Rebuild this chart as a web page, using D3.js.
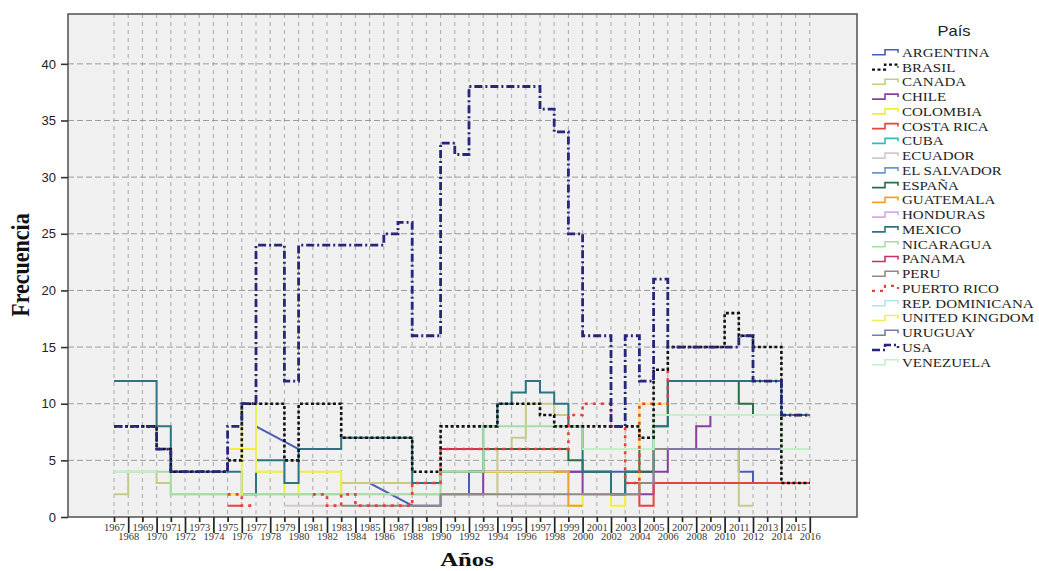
<!DOCTYPE html>
<html><head><meta charset="utf-8">
<script src="https://cdn.jsdelivr.net/npm/d3@7"></script>
<style>body{margin:0;background:#fff}</style>
</head><body><svg id="c" width="1039" height="571"></svg>
<script>
const N = null;
const years = d3.range(1967, 2017);
const yTickValues = [0, 5, 10, 15, 20, 25, 30, 35, 40];
const countries = ["ARGENTINA","BRASIL","CANADA","CHILE","COLOMBIA","COSTA RICA","CUBA","ECUADOR","EL SALVADOR","ESPAÑA","GUATEMALA","HONDURAS","MEXICO","NICARAGUA","PANAMA","PERU","PUERTO RICO","REP. DOMINICANA","UNITED KINGDOM","URUGUAY","USA","VENEZUELA"];

// values per year 1967..2016 (rows of ten years)
const argentina = [N,N,N,N,N,N,N,N,N,N, 8,N,N,6,6,6,N,N,3,N, N,1,1,2,2,4,4,4,4,4, 4,4,4,4,4,4,4,4,6,6, 6,6,6,6,4,3,3,3,3,3];
const argentinaLinks = [[1977, 1980], [1985, 1988]];
const brasil = [8,8,8,6,4,4,4,4,5,10, 10,10,5,10,10,10,7,7,7,7, 7,4,4,8,8,8,8,10,10,10, 9,8,8,8,8,8,8,7,13,15, 15,15,15,18,16,15,15,3,3,3];
const canada = [2,4,4,3,2,2,2,2,2,2, 2,2,2,2,2,2,3,3,3,3, 3,2,2,2,2,2,2,6,7,10, 10,9,8,6,6,6,6,6,6,6, 6,6,6,6,1,1,N,N,N,N];
const chile = [N,N,N,N,N,N,N,N,N,N, N,N,N,N,N,N,N,N,N,N, N,N,N,N,N,2,4,4,4,4, 4,4,4,2,2,2,2,2,4,6, 6,8,9,9,9,9,9,9,9,9];
const colombia = [N,N,N,N,N,N,N,N,6,6, 4,4,2,4,4,4,2,2,2,2, 2,2,2,4,4,4,4,4,4,4, 4,4,1,2,2,1,2,10,10,9, 9,9,9,9,9,9,9,9,N,N];
const costaRica = [N,N,N,N,N,N,N,N,1,1, N,N,N,N,N,N,N,N,N,N, N,N,N,N,N,N,N,N,N,N, N,N,N,N,N,N,3,1,3,3, 3,3,3,3,3,3,3,3,3,3];
const cuba = [N,N,N,N,N,N,N,N,N,N, N,N,N,N,N,N,N,N,N,N, N,N,N,N,N,N,N,N,N,N, N,N,N,N,N,N,N,N,N,N, N,N,N,N,N,N,N,N,N,N];
const ecuador = [N,N,N,N,N,N,N,N,N,N, N,N,1,1,1,1,1,N,N,N, N,N,N,N,N,N,N,1,1,1, 1,1,1,N,N,N,N,N,N,N, N,N,N,N,N,N,N,N,N,N];
const elSalvador = [N,N,N,N,N,N,N,N,N,N, N,N,N,N,N,N,N,N,N,N, N,N,N,N,N,N,N,N,N,N, N,N,N,N,N,N,N,N,N,N, N,N,N,N,N,N,N,N,N,N];
const espana = [N,N,N,N,N,N,N,N,N,N, N,N,N,N,N,N,N,N,N,N, N,N,N,N,N,4,6,6,6,6, 6,6,5,4,4,2,4,4,8,12, 12,12,12,12,10,9,9,9,9,9];
const guatemala = [N,N,N,N,N,N,N,N,N,N, N,N,N,N,N,N,N,N,N,N, N,N,N,N,N,N,N,N,N,N, N,4,1,1,N,N,N,N,N,N, N,N,N,N,N,N,N,N,N,N];
const honduras = [N,N,N,N,N,N,N,N,N,N, N,N,N,N,N,N,N,N,N,N, N,N,N,N,N,N,N,N,N,N, N,N,N,N,N,N,N,N,N,N, N,N,N,N,N,N,N,N,N,N];
const mexico = [12,12,12,8,4,4,4,4,4,2, 5,5,3,6,6,6,7,7,7,7, 7,3,3,4,4,4,8,10,11,12, 11,10,8,4,4,2,4,6,8,12, 12,12,12,12,12,12,12,9,9,9];
const nicaragua = [4,4,4,4,2,2,2,2,2,2, 2,2,2,2,2,2,2,2,2,2, 2,2,2,4,4,4,8,8,8,8, 8,8,8,6,6,6,6,6,9,9, 9,9,9,9,9,9,9,6,6,6];
const panama = [N,N,N,N,N,N,N,N,N,N, N,N,N,N,N,N,N,N,N,N, N,N,N,6,6,6,6,N,N,N, N,N,N,N,N,N,N,N,N,N, N,N,N,N,N,N,N,N,N,N];
const peru = [N,N,N,N,N,N,N,N,N,N, N,N,N,N,N,N,1,1,1,1, 1,1,1,2,2,2,2,2,2,2, 2,2,2,2,2,2,2,3,6,6, 6,6,6,6,6,6,6,6,6,6];
const puertoRico = [N,N,N,N,N,N,N,N,2,1, 1,N,N,N,2,1,2,1,1,1, 1,3,3,6,6,6,6,6,6,6, 6,6,9,10,10,8,3,10,10,13, N,N,N,N,N,N,N,9,9,9];
const repDominicana = [N,N,N,N,N,N,N,N,N,N, N,N,N,N,N,N,N,N,N,N, N,N,N,N,N,N,N,N,N,N, N,N,N,N,N,N,N,N,N,N, N,N,N,N,N,N,N,N,N,N];
const unitedKingdom = [N,N,N,N,N,N,N,N,2,10, 4,4,N,N,N,N,N,N,N,N, N,N,N,N,N,N,N,N,N,N, N,N,N,N,N,N,N,N,N,N, N,N,N,N,N,N,N,N,N,N];
const uruguay = [N,N,N,N,N,N,N,N,N,N, N,N,N,N,N,N,N,N,N,N, N,N,N,N,N,N,N,N,N,N, N,N,N,N,N,N,N,N,N,6, 6,6,6,6,6,6,6,6,6,6];
const usa = [8,8,8,6,4,4,4,4,8,10, 24,24,12,24,24,24,24,24,24,25, 26,16,16,33,32,38,38,38,38,38, 36,34,25,16,16,8,16,12,21,15, 15,15,15,15,16,12,12,9,9,9];
const venezuela = [4,4,4,4,N,N,N,N,N,N, N,N,N,N,N,N,N,N,N,N, N,N,N,N,N,N,N,N,N,N, N,N,N,6,6,6,6,6,9,9, 9,9,9,9,9,9,9,6,6,6];

const seriesValues = [argentina,brasil,canada,chile,colombia,costaRica,cuba,ecuador,elSalvador,espana,guatemala,honduras,mexico,nicaragua,panama,peru,puertoRico,repDominicana,unitedKingdom,uruguay,usa,venezuela];

// styles
const colors = ["#4a5cb8","#111111","#c9c98a","#8a3ea2","#f2ee3a","#e8423f","#38b8c0","#d4c8c8","#6a98cc","#2a6e48","#f0a030","#d8a8e8","#2c7482","#a6dca6","#cc3060","#8e8a84","#e8403a","#b4e4ee","#eeee58","#7a78ac","#26267a","#c6eec8"];
const dashes = {1:"3,2.5", 16:"3,5", 20:"8,3,2,3"};
const widths = {1:2.6, 16:2.6, 20:2.8};

const svg = d3.select("#c");
const plotL = 68, plotR = 857, plotT = 14, plotB = 517;
const x = d3.scalePoint().domain(years).range([114, 809.8]);
const y = d3.scaleLinear().domain([0, 44.4]).range([plotB, plotT]);

const serif = "'Liberation Serif','Times New Roman',serif";
const sans = "'Liberation Sans',Arial,sans-serif";

svg.append("rect").attr("x", plotL).attr("y", plotT).attr("width", plotR - plotL).attr("height", plotB - plotT)
  .attr("fill", "#f0f0f0");

// vertical grid
svg.append("g").selectAll("line").data(years).join("line")
  .attr("x1", d => x(d)).attr("x2", d => x(d)).attr("y1", plotT).attr("y2", plotB)
  .attr("stroke", "#a8a8a8").attr("stroke-width", 1).attr("stroke-dasharray", "4,4");
// horizontal grid
svg.append("g").selectAll("line").data(yTickValues.filter(v => v > 0)).join("line")
  .attr("x1", plotL).attr("x2", plotR).attr("y1", d => y(d)).attr("y2", d => y(d))
  .attr("stroke", "#9c9c9c").attr("stroke-width", 1).attr("stroke-dasharray", "6,3");

// lines
const line = d3.line().defined(d => d.v != null).x(d => x(d.year)).y(d => y(d.v)).curve(d3.curveStepAfter);
const straight = d3.line().x(d => x(d.year)).y(d => y(d.v));
const order = d3.range(countries.length).filter(i => i !== 1 && i !== 16 && i !== 20).concat([16, 1, 20]);
const gLines = svg.append("g");
order.forEach(i => {
  const vals = seriesValues[i].map((v, k) => ({year: years[k], v}));
  if (i === 0) {
    argentinaLinks.forEach(([a, b]) => {
      gLines.append("path").attr("d", straight([{year: a, v: argentina[a - 1967]}, {year: b, v: argentina[b - 1967]}]))
        .attr("fill", "none").attr("stroke", colors[0]).attr("stroke-width", 2);
    });
  }
  gLines.append("path").attr("d", line(vals)).attr("fill", "none")
    .attr("stroke", colors[i]).attr("stroke-width", widths[i] || 2)
    .attr("stroke-dasharray", dashes[i] || null);
});

// frame border
svg.append("rect").attr("x", plotL).attr("y", plotT).attr("width", plotR - plotL).attr("height", plotB - plotT)
  .attr("fill", "none").attr("stroke", "#5a5a5a").attr("stroke-width", 1.6);

// y axis
const yAxis = svg.append("g").attr("transform", `translate(${plotL},0)`)
  .call(d3.axisLeft(y).tickValues(yTickValues).tickSize(7).tickPadding(5));
yAxis.select(".domain").remove();
yAxis.selectAll(".tick line").attr("stroke", "#333").attr("stroke-width", 1.6);
yAxis.selectAll(".tick text").attr("font-family", sans).attr("font-size", 13).attr("fill", "#222");

// x axis, staggered labels
const odd = years.filter((d, i) => i % 2 === 0), even = years.filter((d, i) => i % 2 === 1);
const xa1 = svg.append("g").attr("transform", `translate(0,${plotB})`)
  .call(d3.axisBottom(x).tickValues(odd).tickSize(5).tickPadding(2));
const xa2 = svg.append("g").attr("transform", `translate(0,${plotB})`)
  .call(d3.axisBottom(x).tickValues(even).tickSize(16).tickPadding(0));
[xa1, xa2].forEach(a => {
  a.select(".domain").remove();
  a.selectAll(".tick line").attr("stroke", "#222").attr("stroke-width", 1.7);
  a.selectAll(".tick text").attr("font-family", serif).attr("font-size", 10).attr("fill", "#333")
    .attr("transform", "scale(1.05,1)");
});

// axis titles
svg.append("text").attr("transform", "translate(467,566) scale(1.3,1)").attr("text-anchor", "middle")
  .attr("font-family", serif).attr("font-weight", "bold").attr("font-size", 19).attr("fill", "#111").text("Años");
svg.append("text").attr("transform", "translate(29,265) rotate(-90) scale(1,1.15)").attr("text-anchor", "middle")
  .attr("font-family", serif).attr("font-weight", "bold").attr("font-size", 22).attr("fill", "#111").text("Frecuencia");

// legend
svg.append("text").attr("transform", "translate(954,36) scale(1.18,1)").attr("text-anchor", "middle")
  .attr("font-family", sans).attr("font-size", 14).attr("fill", "#222").text("País");
const lg = svg.append("g").selectAll("g").data(countries).join("g")
  .attr("transform", (d, i) => `translate(0,${52.3 + i * 14.76})`);
lg.append("path").attr("d", "M872,2.5H885V-2.5H898V0.5").attr("fill", "none")
  .attr("stroke", (d, i) => colors[i]).attr("stroke-width", (d, i) => (widths[i] || 2) - 0.4)
  .attr("stroke-dasharray", (d, i) => dashes[i] || null);
lg.append("text").attr("transform", "translate(902,4.5) scale(1.25,1)")
  .attr("font-family", serif).attr("font-size", 12).attr("fill", "#222").text(d => d);
</script></body></html>
